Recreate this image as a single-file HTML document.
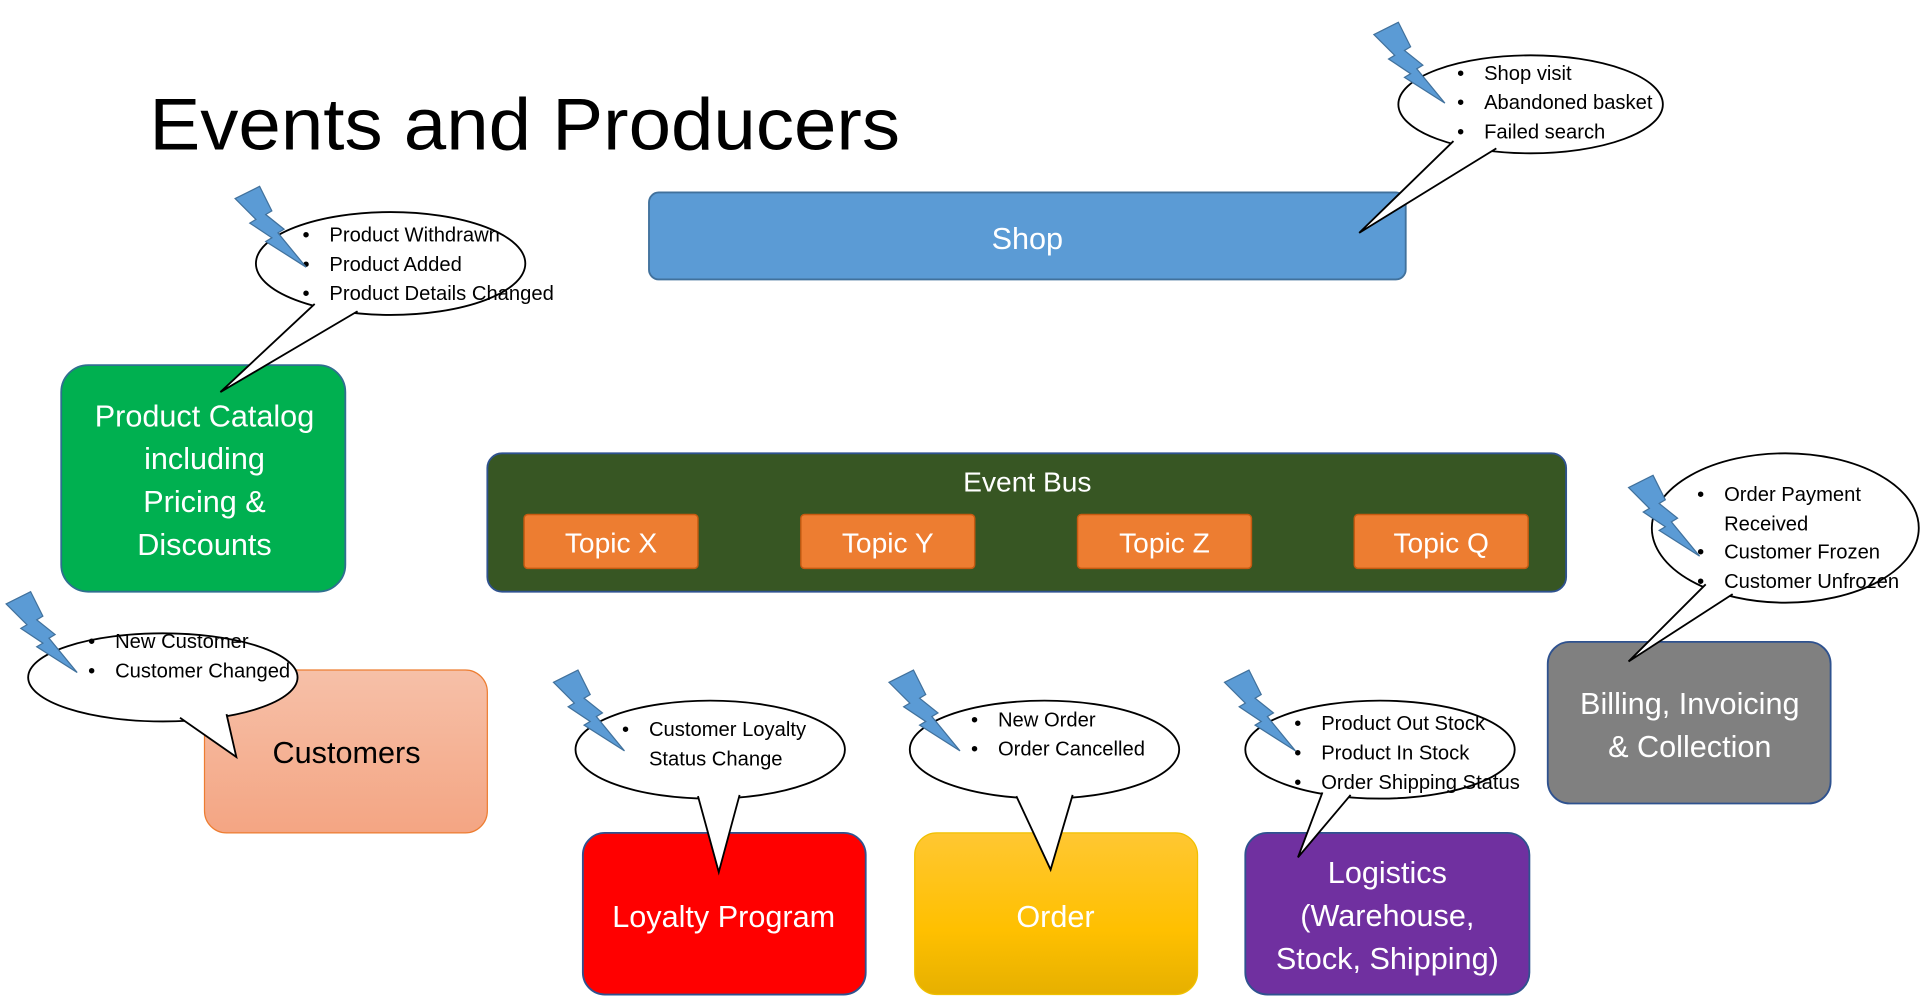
<!DOCTYPE html>
<html><head><meta charset="utf-8"><style>
html,body{margin:0;padding:0;background:#fff;}
svg{display:block;}
text{font-family:"Liberation Sans",sans-serif;}
</style></head><body>
<svg width="1920" height="1007" viewBox="0 0 1568 822" xmlns="http://www.w3.org/2000/svg">
<defs>
<linearGradient id="gc" x1="0" y1="0" x2="0" y2="1"><stop offset="0" stop-color="#f6c0a8"/><stop offset="1" stop-color="#f4a583"/></linearGradient>
<linearGradient id="go" x1="0" y1="0" x2="0" y2="1"><stop offset="0" stop-color="#ffc732"/><stop offset="0.6" stop-color="#ffc000"/><stop offset="1" stop-color="#e6b000"/></linearGradient>
<polygon id="bolt" points="0,10 20,0 30,20 25,23 40,35 35,38 58,66 25,45 30,42 12,30 17,27" fill="#5b9bd5" stroke="#41719c" stroke-width="1"/>
</defs>

<text x="122" y="122" font-size="60" fill="#000" textLength="613" lengthAdjust="spacingAndGlyphs">Events and Producers</text>

<rect x="530" y="157" width="618" height="71" rx="8" fill="#5b9bd5" stroke="#41719c" stroke-width="1.5"/>
<text x="839" y="203" font-size="25" fill="#fff" text-anchor="middle">Shop</text>

<rect x="50" y="298" width="232" height="185" rx="22" fill="#00b050" stroke="#2f6f8f" stroke-width="1.5"/>
<g font-size="25" fill="#fff" text-anchor="middle">
<text x="167" y="348">Product Catalog</text><text x="167" y="383">including</text><text x="167" y="418">Pricing &amp;</text><text x="167" y="453">Discounts</text></g>

<rect x="398" y="370" width="881" height="113" rx="12" fill="#375623" stroke="#2f528f" stroke-width="1.5"/>
<text x="839" y="401" font-size="23" fill="#fff" text-anchor="middle">Event Bus</text>
<g stroke="#c55a11" stroke-width="1.2" fill="#ed7d31">
<rect x="428" y="420" width="142" height="44" rx="3"/><rect x="654" y="420" width="142" height="44" rx="3"/><rect x="880" y="420" width="142" height="44" rx="3"/><rect x="1106" y="420" width="142" height="44" rx="3"/></g>
<g font-size="23" fill="#fff" text-anchor="middle">
<text x="499" y="451">Topic X</text><text x="725" y="451">Topic Y</text><text x="951" y="451">Topic Z</text><text x="1177" y="451">Topic Q</text></g>

<rect x="167" y="547" width="231" height="133" rx="18" fill="url(#gc)" stroke="#ed7d31" stroke-width="1"/>
<text x="283" y="623" font-size="25" fill="#000" text-anchor="middle">Customers</text>

<rect x="476" y="680" width="231" height="132" rx="18" fill="#ff0000" stroke="#2f528f" stroke-width="1.5"/>
<text x="591" y="757" font-size="25" fill="#fff" text-anchor="middle">Loyalty Program</text>

<rect x="747" y="680" width="231" height="132" rx="18" fill="url(#go)" stroke="#f0c000" stroke-width="1"/>
<text x="862" y="757" font-size="25" fill="#fff" text-anchor="middle">Order</text>

<rect x="1017" y="680" width="232" height="132" rx="18" fill="#7030a0" stroke="#2f528f" stroke-width="1.5"/>
<g font-size="25" fill="#fff" text-anchor="middle"><text x="1133" y="721">Logistics</text><text x="1133" y="756">(Warehouse,</text><text x="1133" y="791">Stock, Shipping)</text></g>

<rect x="1264" y="524" width="231" height="132" rx="18" fill="#808080" stroke="#2f528f" stroke-width="1.5"/>
<g font-size="25" fill="#fff" text-anchor="middle"><text x="1380" y="583">Billing, Invoicing</text><text x="1380" y="618">&amp; Collection</text></g>

<!-- Callouts: ellipse, white triangle cover, tail lines -->
<g stroke="#000" stroke-width="1.5" fill="#fff">
<ellipse cx="1250" cy="85" rx="108" ry="40"/>
<polygon points="1187,115 1110,190 1222,121" stroke="none"/>
<polyline points="1187,115 1110,190 1222,121" fill="none"/>

<ellipse cx="319" cy="215" rx="110" ry="42"/>
<polygon points="257,248 180,320 292,254" stroke="none"/>
<polyline points="257,248 180,320 292,254" fill="none"/>

<ellipse cx="133" cy="553" rx="110" ry="36"/>
<polygon points="147,586 193,618 185,583" stroke="none"/>
<polyline points="147,586 193,618 185,583" fill="none"/>

<ellipse cx="580" cy="612" rx="110" ry="40"/>
<polygon points="570,650 587,712 604,649" stroke="none"/>
<polyline points="570,650 587,712 604,649" fill="none"/>

<ellipse cx="853" cy="612" rx="110" ry="40"/>
<polygon points="830,650 858,710 876,649" stroke="none"/>
<polyline points="830,650 858,710 876,649" fill="none"/>

<ellipse cx="1127" cy="612" rx="110" ry="40"/>
<polygon points="1080,647 1060,700 1103,649" stroke="none"/>
<polyline points="1080,647 1060,700 1103,649" fill="none"/>

<ellipse cx="1458" cy="431" rx="109" ry="61"/>
<polygon points="1393,477 1330,540 1415,485" stroke="none"/>
<polyline points="1393,477 1330,540 1415,485" fill="none"/>
</g>

<g font-size="16.5" fill="#000">
<text x="1190" y="65">•</text><text x="1212" y="65">Shop visit</text>
<text x="1190" y="89">•</text><text x="1212" y="89">Abandoned basket</text>
<text x="1190" y="113">•</text><text x="1212" y="113">Failed search</text>

<text x="247" y="197">•</text><text x="269" y="197">Product Withdrawn</text>
<text x="247" y="221">•</text><text x="269" y="221">Product Added</text>
<text x="247" y="245">•</text><text x="269" y="245">Product Details Changed</text>

<text x="72" y="529">•</text><text x="94" y="529">New Customer</text>
<text x="72" y="553">•</text><text x="94" y="553">Customer Changed</text>

<text x="508" y="601">•</text><text x="530" y="601">Customer Loyalty</text>
<text x="530" y="625">Status Change</text>

<text x="793" y="593">•</text><text x="815" y="593">New Order</text>
<text x="793" y="617">•</text><text x="815" y="617">Order Cancelled</text>

<text x="1057" y="596">•</text><text x="1079" y="596">Product Out Stock</text>
<text x="1057" y="620">•</text><text x="1079" y="620">Product In Stock</text>
<text x="1057" y="644">•</text><text x="1079" y="644">Order Shipping Status</text>

<text x="1386" y="409">•</text><text x="1408" y="409">Order Payment</text>
<text x="1408" y="433">Received</text>
<text x="1386" y="456">•</text><text x="1408" y="456">Customer Frozen</text>
<text x="1386" y="480">•</text><text x="1408" y="480">Customer Unfrozen</text>
</g>

<use href="#bolt" x="1122" y="18"/>
<use href="#bolt" x="192" y="152"/>
<use href="#bolt" x="5" y="483"/>
<use href="#bolt" x="452" y="547"/>
<use href="#bolt" x="726" y="547"/>
<use href="#bolt" x="1000" y="547"/>
<use href="#bolt" x="1330" y="388"/>
</svg>
</body></html>
